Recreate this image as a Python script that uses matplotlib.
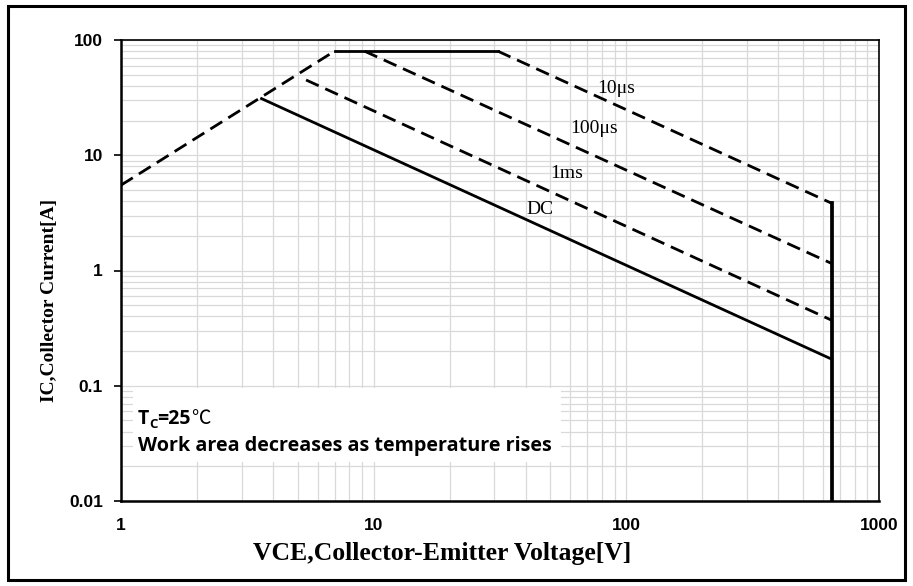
import matplotlib.pyplot as plt
from matplotlib.patches import Rectangle
from matplotlib.transforms import offset_copy

# SOA curve data (VCE in V, IC in A)
rise_v = [1, 7]
rise_i = [5.5, 80]
flat_v = [7, 31]
flat_i = [80, 80]
us10_v = [31, 650]
us10_i = [80, 3.83]
us100_v = [9.2, 650]
us100_i = [80, 1.15]
ms1_v = [5.4, 650]
ms1_i = [45, 0.37]
dc_v = [3.6, 650]
dc_i = [31, 0.17]
limit_v = [650, 650]
limit_i = [0.01, 3.83]

labels = ["10\u03bcs", "100\u03bcs", "1ms", "DC"]
label_v = [77, 60, 50, 40.4]
label_i = [38, 17.2, 7.0, 3.35]

fig = plt.figure(figsize=(9.13, 5.86), dpi=100)
ax = fig.add_axes([121 / 913, 85 / 586, 758 / 913, 461 / 586])

# figure border
fig.patches.append(Rectangle((8 / 913, 6 / 586), 897 / 913, 574 / 586,
                             transform=fig.transFigure, fill=False,
                             edgecolor="black", linewidth=2.2))

ax.set_xscale("log")
ax.set_yscale("log")
ax.set_xlim(1, 1000)
ax.set_ylim(0.01, 100)

ax.grid(True, which="both", color="#d9d9d9", linewidth=0.9)
ax.set_axisbelow(True)

lw = 2.0
dash = (5, 2.6)
ax.plot(rise_v, rise_i, color="black", linewidth=lw, dashes=dash)
ax.plot(flat_v, flat_i, color="black", linewidth=lw)
ax.plot(us10_v, us10_i, color="black", linewidth=lw, dashes=dash)
ax.plot(us100_v, us100_i, color="black", linewidth=lw, dashes=dash)
ax.plot(ms1_v, ms1_i, color="black", linewidth=lw, dashes=dash)
ax.plot(dc_v, dc_i, color="black", linewidth=lw)
ax.plot(limit_v, limit_i, color="black", linewidth=2.7)

for t, x, y in zip(labels, label_v, label_i):
    ax.text(x, y, t, family="Liberation Serif", fontsize=14,
            ha="left", va="center")

# note box
ax.add_patch(Rectangle((0.016, 0.085), 0.564, 0.16, transform=ax.transAxes,
                       facecolor="white", edgecolor="none", zorder=2.5))

renderer = fig.canvas.get_renderer()
note_font = dict(family="Open Sans", fontweight="bold", zorder=3)


def put_pieces(pieces, x0, y0):
    # place text pieces one after another, measuring each width
    dx = 0.0
    for txt, size, dy, extra in pieces:
        kw = dict(note_font)
        kw.update(extra)
        tr = offset_copy(ax.transAxes, fig=fig, x=dx, y=dy, units="dots")
        t = ax.text(x0, y0, txt, transform=tr, fontsize=size,
                    va="baseline", ha="left", **kw)
        dx += t.get_window_extent(renderer).width


put_pieces([("T", 14, 0, {}),
            ("C", 9.5, -4, {}),
            ("=25", 14, 0, {}),
            ("\u2103", 14, 0, dict(family=["Noto Sans CJK SC", "DejaVu Sans"],
                                   fontweight="normal"))],
           0.022, 0.168)
ax.text(0.022, 0.108, "Work area decreases as temperature rises",
        transform=ax.transAxes, fontsize=14.2, va="baseline", **note_font)

ax.set_xticks([1, 10, 100, 1000])
ax.set_xticklabels(["1", "10", "100", "1000"])
ax.set_yticks([0.01, 0.1, 1, 10, 100])
ax.set_yticklabels(["0.01", "0.1", "1", "10", "100"])
ax.tick_params(axis="both", which="minor", length=0)
ax.tick_params(axis="x", which="major", length=0, pad=12)
ax.tick_params(axis="y", which="major", length=5, width=1.2, pad=8)
for lab in ax.get_xticklabels() + ax.get_yticklabels():
    lab.set_family("Liberation Sans")
    lab.set_fontweight("bold")
    lab.set_fontsize(12.5)

for side in ["left", "bottom"]:
    ax.spines[side].set_linewidth(1.8)
for side in ["top", "right"]:
    ax.spines[side].set_linewidth(1.2)

ax.set_xlabel("VCE,Collector-Emitter Voltage[V]", family="Liberation Serif",
              fontweight="bold", fontsize=18.5)
ax.xaxis.set_label_coords(0.4235, -0.088)
ax.set_ylabel("IC,Collector Current[A]", family="Liberation Serif",
              fontweight="bold", fontsize=14)
ax.yaxis.set_label_coords(-0.083, 0.434)

fig.savefig("out.png", dpi=100)
